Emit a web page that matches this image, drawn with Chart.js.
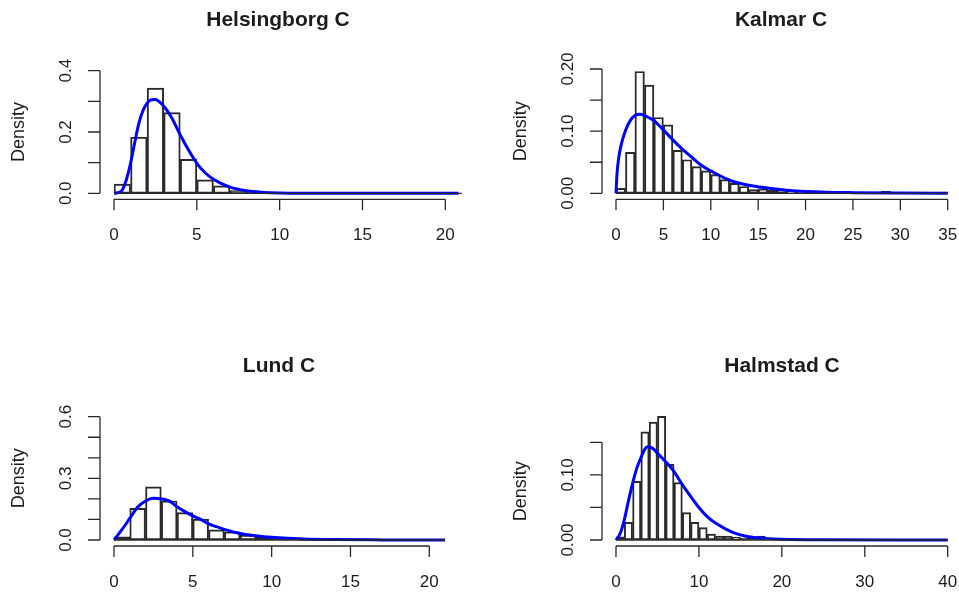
<!DOCTYPE html>
<html>
<head>
<meta charset="utf-8">
<script src="https://cdn.jsdelivr.net/npm/chart.js@4.4.0/dist/chart.umd.min.js"></script>
<style>
  html,body{margin:0;padding:0;background:#fff;}
  #wrap{position:relative;width:959px;height:594px;overflow:hidden;}
  #wrap canvas{position:absolute;left:0;top:0;}
</style>
</head>
<body>
<div id="wrap">
  <canvas id="c-hels" width="959" height="594"></canvas>
  <canvas id="c-kalm" width="959" height="594"></canvas>
  <canvas id="c-lund" width="959" height="594"></canvas>
  <canvas id="c-halm" width="959" height="594"></canvas>
</div>
<script>
'use strict';
// ── data (bin width 1, densities) ──
const helsBins=[0.030,0.183,0.343,0.263,0.111,0.044,0.024,0.009,0.003,0.001,0,0,0,0,0,0,0,0,0,0,0];
const helsCurveX=[0,0.25,0.5,0.75,1,1.25,1.5,1.75,2,2.25,2.5,2.75,3,3.5,4,4.5,5,5.5,6,7,8,9,10,12,15,20.8];
const helsCurveY=[0,0.002,0.011,0.045,0.098,0.165,0.228,0.27,0.294,0.305,0.306,0.298,0.285,0.245,0.19,0.141,0.098,0.067,0.046,0.02,0.008,0.003,0.001,0.0003,0,0];
const helsYTicks=[0,0.1,0.2,0.3,0.4];
const helsYLabels=['0.0','','0.2','','0.4'];
const helsXTicks=[0,5,10,15,20];

const kalmBins=[0.008,0.066,0.196,0.174,0.122,0.110,0.069,0.054,0.043,0.036,0.030,0.022,0.016,0.011,0.006,0.007,0.005,0.006,0.003,0.002,0.002,0.004,0.001,0.001,0.001,0.001,0.001,0.002,0.003,0.0005,0,0,0,0,0.002];
const kalmCurveX=[0,0.1,0.25,0.5,1,1.5,2,2.5,3,4,5,6,7,8,9,10,12,14,16,18,20,25,30,35];
const kalmCurveY=[0,0.03,0.053,0.075,0.101,0.117,0.125,0.127,0.125,0.117,0.102,0.086,0.071,0.058,0.045,0.036,0.021,0.013,0.0085,0.005,0.003,0.001,0.0003,0.0001];
const kalmYTicks=[0,0.05,0.10,0.15,0.20];
const kalmYLabels=['0.00','','0.10','','0.20'];
const kalmXTicks=[0,5,10,15,20,25,30,35];

const lundBins=[0.016,0.154,0.259,0.190,0.133,0.102,0.049,0.040,0.024,0.016,0.010,0.005,0.002,0.001,0,0,0,0,0,0,0];
const lundCurveX=[0,0.5,1,1.5,2,2.5,3,3.5,4,4.5,5,5.5,6,6.5,7,8,9,10,11,12,14,17,21];
const lundCurveY=[0,0.05,0.105,0.16,0.19,0.203,0.2,0.19,0.162,0.138,0.117,0.10,0.078,0.065,0.052,0.032,0.021,0.013,0.008,0.005,0.002,0.0005,0];
const lundYTicks=[0,0.1,0.2,0.3,0.4,0.5,0.6];
const lundYLabels=['0.0','','','0.3','','','0.6'];
const lundXTicks=[0,5,10,15,20];

const halmBins=[0.005,0.027,0.090,0.166,0.181,0.190,0.116,0.088,0.042,0.027,0.019,0.009,0.006,0.006,0.004,0.003,0.003,0.006,0,0,0,0,0,0,0,0,0,0,0,0,0,0,0,0,0,0,0,0,0,0];
const halmCurveX=[0,0.5,1,1.5,2,2.5,3,3.5,3.8,4.5,5,6,7,8,9,10,11,12,14,16,18,20,25,40];
const halmCurveY=[0,0.01,0.031,0.06,0.087,0.11,0.126,0.14,0.143,0.14,0.133,0.12,0.105,0.085,0.067,0.05,0.036,0.026,0.012,0.005,0.0025,0.001,0.0002,0];
const halmYTicks=[0,0.05,0.10,0.15];
const halmYLabels=['0.00','','0.10',''];
const halmXTicks=[0,10,20,30,40];

// ── layout (page px) ──
const FONT='"Liberation Sans", Arial, Helvetica, sans-serif';
const INK='#1c1c1c';
const panels=[
  {id:'c-hels',title:'Helsingborg C',bins:helsBins,cx:helsCurveX,cy:helsCurveY,yT:helsYTicks,yL:helsYLabels,xT:helsXTicks,
   xMax:21,yMax:0.4,box:{l:114,r:114+21*16.565,t:70.7,b:193.3},titleX:278,titleY:20},
  {id:'c-kalm',title:'Kalmar C',bins:kalmBins,cx:kalmCurveX,cy:kalmCurveY,yT:kalmYTicks,yL:kalmYLabels,xT:kalmXTicks,
   xMax:35,yMax:0.20,box:{l:616,r:947.7,t:69,b:193.3},titleX:781,titleY:20},
  {id:'c-lund',title:'Lund C',bins:lundBins,cx:lundCurveX,cy:lundCurveY,yT:lundYTicks,yL:lundYLabels,xT:lundXTicks,
   xMax:21,yMax:0.6,box:{l:114,r:114+21*15.765,t:416.7,b:540},titleX:279,titleY:366},
  {id:'c-halm',title:'Halmstad C',bins:halmBins,cx:halmCurveX,cy:halmCurveY,yT:halmYTicks,yL:halmYLabels,xT:halmXTicks,
   xMax:40,yMax:0.20,box:{l:616,r:947.7,t:540-0.2*651.3,b:540},titleX:782,titleY:366},
];

// R-style axes, drawn from the chart's own scales
const rAxes={
  id:'rAxes',
  afterDatasetsDraw(chart,args,o){
    const p=o.panel,ctx=chart.ctx,xs=chart.scales.x,ys=chart.scales.y;
    const x0=xs.getPixelForValue(0),y0=ys.getPixelForValue(0);
    const axX=x0-14,axY=y0+6;
    ctx.save();
    ctx.strokeStyle='#2a2a2a';ctx.lineWidth=1.3;ctx.lineCap='butt';
    // zero-height bins line
    ctx.beginPath();ctx.moveTo(x0,y0);ctx.lineTo(xs.getPixelForValue(p.bins.length),y0);ctx.stroke();
    // y axis
    const yTop=ys.getPixelForValue(p.yT[p.yT.length-1]);
    ctx.beginPath();ctx.moveTo(axX,y0);ctx.lineTo(axX,yTop);
    p.yT.forEach(v=>{const y=ys.getPixelForValue(v);ctx.moveTo(axX,y);ctx.lineTo(axX-12,y)});
    ctx.stroke();
    // x axis
    const xEnd=xs.getPixelForValue(p.xT[p.xT.length-1]);
    ctx.beginPath();ctx.moveTo(x0,axY);ctx.lineTo(xEnd,axY);
    p.xT.forEach(v=>{const x=xs.getPixelForValue(v);ctx.moveTo(x,axY);ctx.lineTo(x,axY+11)});
    ctx.stroke();
    ctx.fillStyle=INK;ctx.textAlign='center';ctx.textBaseline='middle';
    ctx.font='17px '+FONT;
    p.xT.forEach(v=>ctx.fillText(String(v),xs.getPixelForValue(v),axY+36));
    p.yT.forEach((v,i)=>{
      if(!p.yL[i])return;
      ctx.save();ctx.translate(axX-34,ys.getPixelForValue(v));ctx.rotate(-Math.PI/2);ctx.fillText(p.yL[i],0,0);ctx.restore();
    });
    ctx.font='18px '+FONT;
    ctx.save();ctx.translate(axX-81,(y0+yTop)/2);ctx.rotate(-Math.PI/2);ctx.fillText('Density',0,0);ctx.restore();
    ctx.font='bold 21px '+FONT;
    ctx.fillText(p.title,p.titleX,p.titleY);
    ctx.restore();
  }
};

panels.forEach(p=>{
  const bars=p.bins.map((v,i)=>({x:i+0.5,y:v}));
  const curve=p.cx.map((x,i)=>({x,y:p.cy[i]}));
  new Chart(document.getElementById(p.id),{
    type:'bar',
    data:{datasets:[
      {type:'line',data:curve,borderColor:'#0000ff',borderWidth:3,pointRadius:0,cubicInterpolationMode:'monotone',clip:false,order:0},
      {type:'bar',data:bars,backgroundColor:'rgba(255,255,255,0)',borderColor:'#2a2a2a',borderWidth:1.3,borderSkipped:false,
       barPercentage:1,categoryPercentage:1,order:1}
    ]},
    options:{
      responsive:false,animation:false,events:[],
      layout:{padding:{left:p.box.l,right:959-p.box.r,top:p.box.t,bottom:594-p.box.b}},
      plugins:{legend:{display:false},tooltip:{enabled:false},title:{display:false},rAxes:{panel:p}},
      scales:{
        x:{type:'linear',min:0,max:p.xMax,offset:false,display:false},
        y:{min:0,max:p.yMax,display:false}
      }
    },
    plugins:[rAxes]
  });
});
</script>
</body>
</html>
